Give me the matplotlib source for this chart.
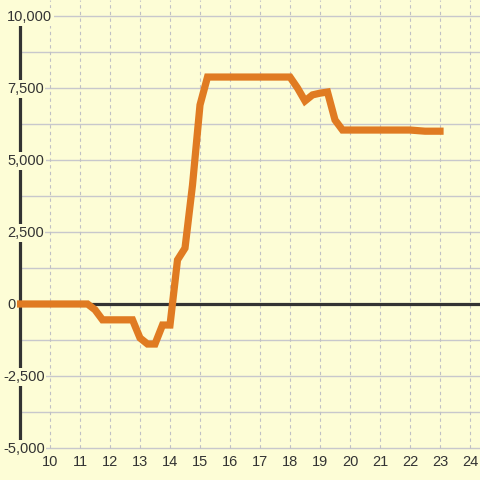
import matplotlib
matplotlib.use("Agg")
import matplotlib.pyplot as plt
import numpy as np

hours = [9.0, 9.25, 9.5, 9.75, 10.0, 10.25, 10.5, 10.75, 11.0, 11.25, 11.5, 11.75,
         12.0, 12.25, 12.5, 12.75, 13.0, 13.25, 13.5, 13.75, 14.0, 14.25, 14.5, 14.75,
         15.0, 15.25, 15.5, 15.75, 16.0, 16.25, 16.5, 16.75, 17.0, 17.25, 17.5, 17.75,
         18.0, 18.25, 18.5, 18.75, 19.0, 19.25, 19.5, 19.75, 20.0, 20.25, 20.5, 20.75,
         21.0, 21.25, 21.5, 21.75, 22.0, 22.25, 22.5, 22.75, 23.0]
values = [0, 0, 0, 0, 0, 0, 0, 0, 0, 0, -200, -550,
          -550, -550, -550, -550, -1180, -1390, -1390, -730, -730, 1530, 1940, 4130,
          6910, 7880, 7880, 7880, 7880, 7880, 7880, 7880, 7880, 7880, 7880, 7880,
          7880, 7500, 7050, 7260, 7320, 7360, 6390, 6040, 6040, 6040, 6040, 6040,
          6040, 6040, 6040, 6040, 6040, 6020, 6000, 6000, 6000]

x_ticks = list(range(10, 25))
y_ticks = [10000, 7500, 5000, 2500, 0, -2500, -5000]
y_grid = list(range(-5000, 10001, 1250))

bg = "#fdfdd6"
fig = plt.figure(figsize=(4.8, 4.8), dpi=100, facecolor=bg)
ax = fig.add_axes([0, 0, 1, 1])
ax.set_facecolor(bg)
for s in ax.spines.values():
    s.set_visible(False)
ax.set_xticks([]); ax.set_yticks([])

xmin, xmax = 9 - 20/30, 9 + 460/30
ymin, ymax = -6111, 10555
ax.set_xlim(xmin, xmax)
ax.set_ylim(ymin, ymax)
px_y = (ymax - ymin) / 480.0

# horizontal grid
ax.hlines(y_grid, 9, xmax, colors="#c8c8cc", lw=1.0, zorder=1)
# vertical dotted grid
ax.vlines(x_ticks, -5000, ymax, colors="#c0c0c4", lw=0.8, linestyles=(0, (3, 3)), zorder=1)
# axis lines
ax.hlines([0], 9, xmax, colors="#333333", lw=2.3, zorder=2)
ax.vlines([9], -5000, 10000, colors="#333333", lw=2.3, zorder=2)

ax.plot(hours, values, color="#e07b22", lw=5.2, solid_joinstyle="miter", zorder=3)

font = "Liberation Sans"
for v in y_ticks:
    left_px = 3 if v < 0 else 7
    ax.text(xmin + left_px/30, v - 1.2*px_y, f"{v:,}", ha="left", va="center", fontsize=10.5,
            color="#333333", family=font, zorder=4,
            bbox=dict(boxstyle="square,pad=0.12", fc=bg, ec="none"))
for h in x_ticks:
    ax.text(h, -5486, str(h), ha="center", va="center", fontsize=10.5,
            color="#333333", family=font, zorder=4)

fig.savefig("out.png", dpi=100, facecolor=bg)
